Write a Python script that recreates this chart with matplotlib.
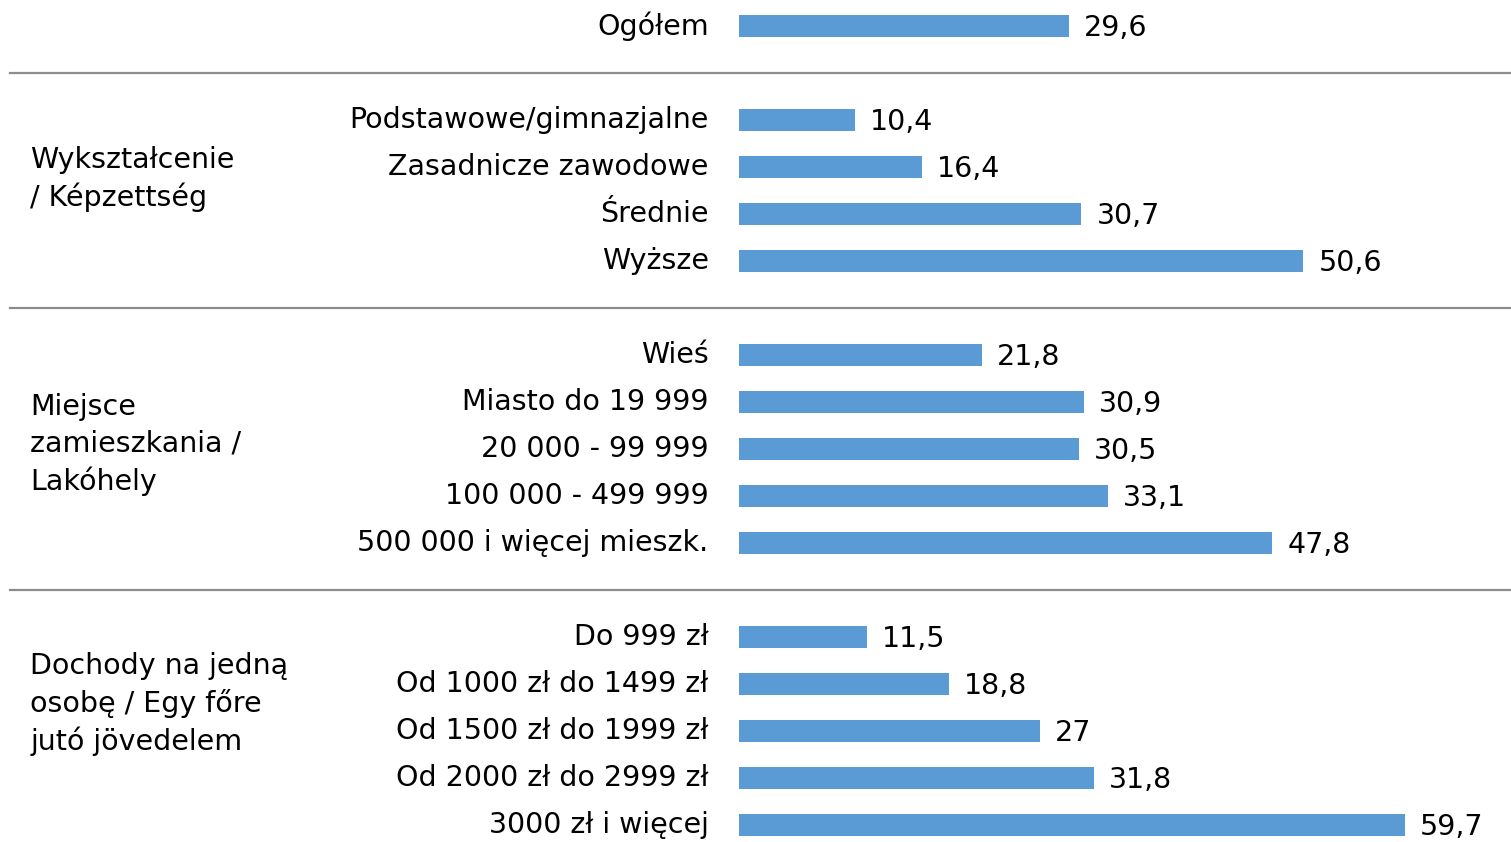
import matplotlib
matplotlib.use('Agg')
import matplotlib.pyplot as plt

# data
ogolem_label = 'Ogółem'
ogolem_value = 29.6

group_names = [
    'Wykształcenie\n/ Képzettség',
    'Miejsce\nzamieszkania /\nLakóhely',
    'Dochody na jedną\nosobę / Egy főre\njutó jövedelem',
]

edu_labels = ['Podstawowe/gimnazjalne', 'Zasadnicze zawodowe', 'Średnie', 'Wyższe']
edu_values = [10.4, 16.4, 30.7, 50.6]

place_labels = ['Wieś', 'Miasto do 19 999', '20 000 - 99 999',
                '100 000 - 499 999', '500 000 i więcej mieszk.']
place_values = [21.8, 30.9, 30.5, 33.1, 47.8]

income_labels = ['Do 999 zł', 'Od 1000 zł do 1499 zł', 'Od 1500 zł do 1999 zł',
                 'Od 2000 zł do 2999 zł', '3000 zł i więcej']
income_values = [11.5, 18.8, 27, 31.8, 59.7]

groups = [(edu_labels, edu_values), (place_labels, place_values),
          (income_labels, income_values)]

bar_color = '#5b9bd5'
sep_color = '#8c8c8c'
fs = 20.5

plt.rcParams['font.family'] = ['DejaVu Sans']

fig = plt.figure(figsize=(15.11, 8.42), dpi=100)
ax = fig.add_axes([0, 0, 1, 1])
ax.set_xlim(-66.2, 69.2)
ax.set_ylim(17.36, -0.553)
ax.axis('off')


def fmt(v):
    return ('%g' % v).replace('.', ',')


def draw_row(y, label, value):
    ax.barh(y, value, height=0.47, color=bar_color)
    ax.text(-2.7, y, label, ha='right', va='center', fontsize=fs)
    ax.text(value + 1.35, y + 0.05, fmt(value), ha='left', va='center', fontsize=fs)


draw_row(0, ogolem_label, ogolem_value)

slot = 1
group_label_y = [3.26, 8.91, 14.43]
for gi, (labels, values) in enumerate(groups):
    # grey separator between groups
    ax.plot([-65.3, 69.2], [slot, slot], color=sep_color, lw=1.6, clip_on=False)
    slot += 1
    for lab, val in zip(labels, values):
        draw_row(slot, lab, val)
        slot += 1
    ax.text(-63.5, group_label_y[gi], group_names[gi], ha='left', va='center',
            fontsize=fs, linespacing=1.38)

fig.savefig('out.png', dpi=100)
